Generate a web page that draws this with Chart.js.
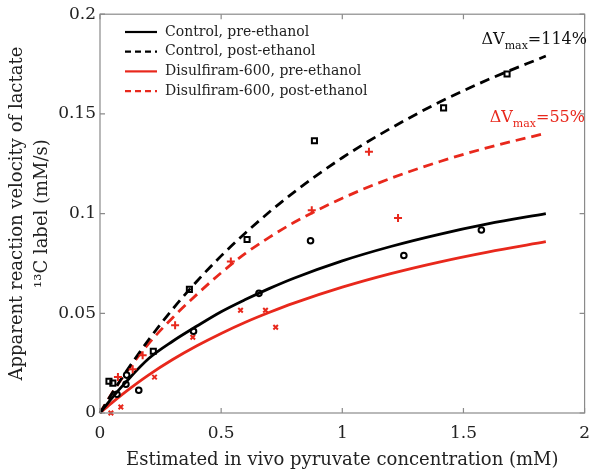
<!DOCTYPE html>
<html>
<head>
    <meta charset="UTF-8">
    <title>Pyruvate to lactate kinetics</title>
    <script src="https://cdn.jsdelivr.net/npm/chart.js"></script>
    <style>
        html, body { margin: 0; padding: 0; background: #fff; }
        #wrap { width: 600px; height: 474px; }
    </style>
</head>
<body>
    <div id="wrap"><canvas id="myChart" width="600" height="474"></canvas></div>

    <script>
        // fitted curves
        const curveX      = [0, 0.05, 0.1, 0.2, 0.3, 0.4, 0.5, 0.6, 0.7, 0.8, 1.0, 1.2, 1.4, 1.6, 1.84];
        const controlPre  = [0, 0.0076, 0.0146, 0.0272, 0.0360, 0.0436, 0.0508, 0.0569, 0.0625, 0.0676, 0.0763, 0.0835, 0.0896, 0.0948, 0.1000];
        const controlPost = [0, 0.0099, 0.0193, 0.0366, 0.0521, 0.0661, 0.0788, 0.0903, 0.1009, 0.1107, 0.1280, 0.1428, 0.1558, 0.1671, 0.1790];
        const disulfPre   = [0, 0.0052, 0.0101, 0.0190, 0.0268, 0.0337, 0.0399, 0.0455, 0.0505, 0.0551, 0.0631, 0.0699, 0.0757, 0.0807, 0.0859];
        const disulfPost  = [0, 0.0100, 0.0190, 0.0347, 0.0478, 0.0595, 0.0703, 0.0800, 0.0882, 0.0955, 0.1077, 0.1177, 0.1260, 0.1331, 0.1403];

        // measured points
        const ctrlPreX  = [0.07, 0.107, 0.11, 0.16, 0.386, 0.656, 0.869, 1.254, 1.574];
        const ctrlPreY  = [0.0094, 0.0144, 0.019, 0.0114, 0.041, 0.060, 0.0864, 0.079, 0.0918];
        const ctrlPostX = [0.037, 0.053, 0.22, 0.369, 0.607, 0.885, 1.418, 1.68];
        const ctrlPostY = [0.0159, 0.015, 0.031, 0.062, 0.087, 0.1365, 0.153, 0.170];
        const disPreX   = [0.045, 0.086, 0.225, 0.383, 0.58, 0.683, 0.725];
        const disPreY   = [0.0, 0.003, 0.018, 0.038, 0.0515, 0.0515, 0.043];
        const disPostX  = [0.074, 0.135, 0.176, 0.31, 0.54, 0.874, 1.11, 1.23];
        const disPostY  = [0.018, 0.022, 0.029, 0.044, 0.076, 0.1017, 0.131, 0.0978];

        const xTicks = [0, 0.5, 1, 1.5, 2];
        const yTicks = [0, 0.05, 0.1, 0.15, 0.2];

        const RED = 'rgb(232, 40, 28)';
        const FONT = 'DejaVu Serif';

        const pairs = (xs, ys) => xs.map((x, i) => ({ x: x, y: ys[i] }));
        const plain = v => String(parseFloat(Number(v).toFixed(3)));

        function curve(label, ys, color, dashed) {
            return {
                type: 'line', label: label, data: pairs(curveX, ys),
                borderColor: color, borderWidth: 2.8, borderDash: dashed ? [10, 6] : [],
                pointRadius: 0, fill: false, cubicInterpolationMode: 'monotone', order: 2
            };
        }
        function marks(xs, ys, color, style, r) {
            return {
                type: 'scatter', label: '', data: pairs(xs, ys),
                pointStyle: style, pointRadius: r, borderColor: color, backgroundColor: 'rgba(0,0,0,0)',
                pointBorderWidth: 2, order: 1
            };
        }

        // box, inner tick marks, legend and the ΔVmax notes
        const decor = {
            id: 'decor',
            afterDraw(chart) {
                const c = chart.ctx, a = chart.chartArea;
                const xs = chart.scales.x, ys = chart.scales.y;
                c.save();
                c.strokeStyle = '#8a8a8a';
                c.lineWidth = 1.2;
                c.strokeRect(a.left, a.top, a.right - a.left, a.bottom - a.top);
                c.beginPath();
                xTicks.forEach(v => {
                    const p = xs.getPixelForValue(v);
                    c.moveTo(p, a.bottom); c.lineTo(p, a.bottom - 5);
                    c.moveTo(p, a.top); c.lineTo(p, a.top + 5);
                });
                yTicks.forEach(v => {
                    const p = ys.getPixelForValue(v);
                    c.moveTo(a.left, p); c.lineTo(a.left + 5, p);
                    c.moveTo(a.right, p); c.lineTo(a.right - 5, p);
                });
                c.stroke();

                // legend
                const rows = [
                    ['Control, pre-ethanol', '#000', false],
                    ['Control, post-ethanol', '#000', true],
                    ['Disulfiram-600, pre-ethanol', RED, false],
                    ['Disulfiram-600, post-ethanol', RED, true]
                ];
                c.font = '14px "' + FONT + '"';
                c.textBaseline = 'middle';
                rows.forEach((r, i) => {
                    const y = 32 + i * 19.7;
                    c.strokeStyle = r[1];
                    c.lineWidth = 2.2;
                    c.setLineDash(r[2] ? [6, 4] : []);
                    c.beginPath(); c.moveTo(125, y); c.lineTo(157, y); c.stroke();
                    c.setLineDash([]);
                    c.fillStyle = '#222';
                    c.fillText(r[0], 165, y);
                });

                // ΔVmax labels
                function note(txt, pct, right, base, color) {
                    c.fillStyle = color;
                    c.textBaseline = 'alphabetic';
                    c.font = '16px "' + FONT + '"';
                    const w1 = c.measureText(txt).width;
                    const w3 = c.measureText(pct).width;
                    c.font = '11px "' + FONT + '"';
                    const w2 = c.measureText('max').width;
                    let x = right - w1 - w2 - w3;
                    c.font = '16px "' + FONT + '"';
                    c.fillText(txt, x, base);
                    c.font = '11px "' + FONT + '"';
                    c.fillText('max', x + w1, base + 5);
                    c.font = '16px "' + FONT + '"';
                    c.fillText(pct, x + w1 + w2, base);
                }
                note('ΔV', '=114%', 587, 44, '#111');
                note('ΔV', '=55%', 585, 122, RED);
                c.restore();
            }
        };

        const ctx = document.getElementById('myChart').getContext('2d');
        const myChart = new Chart(ctx, {
            data: {
                datasets: [
                    curve('Control, pre-ethanol', controlPre, '#000', false),
                    curve('Control, post-ethanol', controlPost, '#000', true),
                    curve('Disulfiram-600, pre-ethanol', disulfPre, RED, false),
                    curve('Disulfiram-600, post-ethanol', disulfPost, RED, true),
                    marks(ctrlPreX, ctrlPreY, '#000', 'circle', 2.8),
                    marks(ctrlPostX, ctrlPostY, '#000', 'rect', 3.6),
                    marks(disPreX, disPreY, RED, 'crossRot', 3.2),
                    marks(disPostX, disPostY, RED, 'cross', 4)
                ]
            },
            options: {
                responsive: false,
                animation: false,
                clip: false,
                layout: { padding: { top: 10, right: 10, left: 0, bottom: 0 } },
                plugins: { legend: { display: false }, tooltip: { enabled: false } },
                scales: {
                    x: {
                        type: 'linear', min: 0, max: 2,
                        grid: { display: false, drawTicks: false },
                        border: { display: false },
                        ticks: { stepSize: 0.5, color: '#222', padding: 10, font: { family: FONT, size: 17 }, callback: plain },
                        title: { display: true, text: 'Estimated in vivo pyruvate concentration (mM)', color: '#222',
                                 font: { family: FONT, size: 18 }, padding: { top: 4, bottom: 3 } },
                        afterFit(s) { s.height = 61; }
                    },
                    y: {
                        type: 'linear', min: 0, max: 0.2,
                        grid: { display: false, drawTicks: false },
                        border: { display: false },
                        ticks: { stepSize: 0.05, color: '#222', padding: 4, font: { family: FONT, size: 17 }, callback: plain },
                        title: { display: true, text: ['Apparent reaction velocity of lactate', '¹³C label (mM/s)'], color: '#222',
                                 font: { family: FONT, size: 18, lineHeight: 1.4 }, padding: { top: 5, bottom: 0 } },
                        afterFit(s) { s.width = 100; }
                    }
                }
            },
            plugins: [decor]
        });
    </script>
</body>
</html>
